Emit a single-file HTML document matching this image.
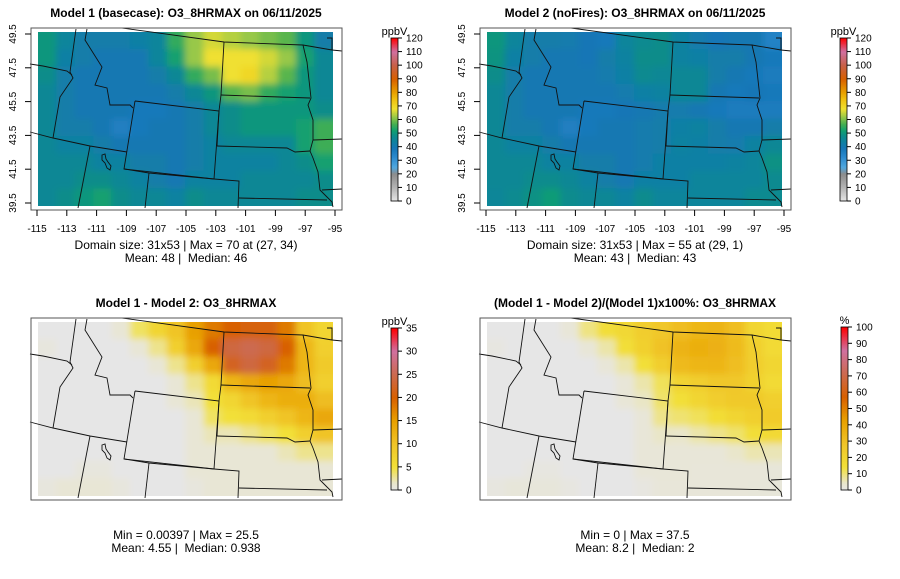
<!DOCTYPE html>
<html><head><meta charset="utf-8"><style>
body{margin:0;background:#fff;}
svg{display:block;font-family:"Liberation Sans",sans-serif;}
</style></head><body>
<svg id="fig" width="900" height="579" viewBox="0 0 900 579" xmlns="http://www.w3.org/2000/svg">
<defs>
<filter id="sm" filterUnits="userSpaceOnUse" x="0" y="0" width="400" height="260"><feGaussianBlur stdDeviation="3.5"/></filter>
<clipPath id="mapclip"><rect x="38" y="32" width="295" height="174"/></clipPath>
</defs>
</svg>
<script>
// Model 1 (basecase) O3_8HRMAX, rows north->south, cols west->east (ppbV)
const model1 = [
[50,45,42,42,42,43,45,55,62,66,64,62,60,58,50,42],
[50,43,42,40,40,40,45,52,62,68,68,68,66,62,52,46],
[48,42,40,40,40,40,42,46,55,60,68,70,64,58,50,46],
[46,42,40,40,40,40,40,42,46,50,58,60,55,52,50,46],
[46,42,40,40,40,38,38,40,42,46,48,50,50,50,50,48],
[46,42,42,40,36,38,40,40,42,46,48,50,50,50,52,56],
[46,44,44,42,40,40,40,40,42,44,46,46,46,46,52,56],
[46,46,46,44,44,42,42,40,42,44,44,44,44,46,48,52],
[46,46,48,48,46,44,42,40,44,44,44,46,46,46,46,48],
[46,48,50,52,48,46,46,44,48,46,46,46,46,46,48,48]];
// Model 1 - Model 2 difference (ppbV)
const diff = [
[0,0,0,0,1,4,7,10,15,18,20,21,21,18,10,7],
[0.5,0,0,0,0,1,3,8,14,20,24,25,24,20,12,8],
[0,0,0,0,0,0,1,3,8,14,22,24,22,18,12,9],
[0,0,0,0,0,0,0,1,3,6,12,14,15,14,11,8],
[0,0,0,0,0,0,0,1,2,5,7,10,12,13,13,11],
[0,0,0,0,0,0,0,0,1,4,5,6,8,10,12,14],
[0,0,0,0,0,0,0,0,1,2,2,3,4,5,8,10],
[0,0,0,0,0,0,0,0,1,1,1,1,1,2,3,3],
[0,0,0.5,0.5,0,0,0,0,1,1,1,1,1,1,1,1],
[0.5,1,1,1,0.5,0,0,0,0.5,1,1,1,1,1,1,1]];
const xTicks = [-115,-113,-111,-109,-107,-105,-103,-101,-99,-97,-95];
const yTicks = [39.5,41.5,43.5,45.5,47.5,49.5];
const cbTicks1 = [0,10,20,30,40,50,60,70,80,90,100,110,120];
const cbTicks3 = [0,5,10,15,20,25,30,35];
const cbTicks4 = [0,10,20,30,40,50,60,70,80,90,100];

const NS='http://www.w3.org/2000/svg';
const svg=document.getElementById('fig');
function mk(tag,attrs,parent){const e=document.createElementNS(NS,tag);for(const k in attrs)e.setAttribute(k,attrs[k]);(parent||svg).appendChild(e);return e;}
function hex(h){return [parseInt(h.substr(1,2),16),parseInt(h.substr(3,2),16),parseInt(h.substr(5,2),16)];}
function ramp(stops){return function(t){t=Math.max(0,Math.min(1,t));for(let i=1;i<stops.length;i++){if(t<=stops[i][0]){const a=stops[i-1],b=stops[i];const f=(t-a[0])/(b[0]-a[0]||1);const ca=hex(a[1]),cb=hex(b[1]);return 'rgb('+ca.map((v,j)=>Math.round(v+(cb[j]-v)*f)).join(',')+')';}}return stops[stops.length-1][1];};}
const cmapO3=ramp([[0,'#e6e6e6'],[10/120,'#b4b4b4'],[20/120,'#8c8c8c'],[25/120,'#50a8e0'],[33/120,'#2a88cc'],[39/120,'#1676b6'],[44/120,'#0f82a0'],[48/120,'#0e8c8a'],[52/120,'#12a070'],[57/120,'#48b050'],[62/120,'#98c848'],[68/120,'#f0e030'],[75/120,'#f0c010'],[80/120,'#e8a000'],[90/120,'#d86000'],[100/120,'#c86048'],[110/120,'#d070a0'],[1,'#ff0000']]);
const cmapDiff=ramp([[0,'#e6e6e6'],[1.5/35,'#e9e6cc'],[5/35,'#f2e038'],[10/35,'#f0c428'],[15/35,'#e8a000'],[20/35,'#d86000'],[25/35,'#cc6a50'],[30/35,'#d070a0'],[1,'#ff0000']]);

const model2 = model1.map((r,i)=>r.map((v,j)=>v-diff[i][j]));
const pct = model1.map((r,i)=>r.map((v,j)=>diff[i][j]/v*100));

const MX0=38,MX1=333,MY0=32,MY1=206;
const lonX=v=>37+(v+115)*(335-37)/20;
const latY=v=>203-(v-39.5)*(203-34)/10;

const borders=[
[[122,28],[224,42],[303,45],[332,50],[342,51]],
[[76,29],[70,72],[73,78],[60,97],[53,138]],
[[30,64],[43,66],[67,71],[72,75]],
[[87,29],[85,40],[102,67],[95,85],[107,88],[110,105],[130,105],[133,108]],
[[135,101],[219,111],[214,179],[124,169],[135,101]],
[[30,132],[53,138],[90,146],[127,152]],
[[90,146],[78,208]],
[[149,173],[145,208]],
[[124,169],[149,173],[214,179],[239,181],[238,208]],
[[224,42],[221,95],[219,111],[217,146]],
[[217,146],[287,148],[295,152],[310,151]],
[[239,198],[327,200]],
[[221,95],[310,98]],
[[303,45],[307,62],[311,98],[308,105],[313,120],[313,140],[310,151]],
[[313,140],[342,139]],
[[310,151],[313,158],[318,172],[320,190],[327,197],[332,202],[333,207]],
[[322,190],[342,189]],
[[327,38],[332,38],[332,50]]];

function panel(opts){
  const g=mk('g',{transform:'translate('+opts.dx+','+opts.dy+')'});
  
  
  const hm=mk('g',{'clip-path':'url(#mapclip)'},g);
  
  
  const inner=mk('g',{filter:'url(#sm)'},hm);
  const R=opts.data.length,C=opts.data[0].length,cw=(MX1-MX0)/C,ch=(MY1-MY0)/R,P=15;
  for(let i=0;i<R;i++)for(let j=0;j<C;j++){
    let x=MX0+j*cw-0.3,y=MY0+i*ch-0.3,w=cw+0.6,h=ch+0.6;
    if(j===0){x-=P;w+=P;} if(j===C-1){w+=P;}
    if(i===0){y-=P;h+=P;} if(i===R-1){h+=P;}
    const r=mk('rect',{x:x,y:y,width:w,height:h,fill:opts.cmap(opts.data[i][j]/opts.vmax)},inner);
    
    
  }
  const bg=mk('g',{fill:'none',stroke:'#111','stroke-width':'0.9'},g);
  
  
  borders.forEach(b=>mk('polyline',{points:b.map(p=>p.join(',')).join(' ')},bg));
  const lake=mk('path',{d:'M102,155 L105,154 L106,159 L108,162 L111,166 L110,170 L107,168 L105,163 L102,160 Z',fill:'none',stroke:'#111','stroke-width':'0.9'},g);
  
  
  const box=mk('rect',{x:31,y:28,width:311,height:182,fill:'none',stroke:'#555','stroke-width':'1'},g);
  
  
  if(opts.axes){
    const xa=mk('g',{},g);
    
    
    xTicks.forEach(v=>{const x=lonX(v);mk('line',{x1:x,x2:x,y1:210,y2:216,stroke:'#000'},xa);
      const t=mk('text',{x:x,y:232,'font-size':'10','text-anchor':'middle'},xa);t.textContent=v;});
    const ya=mk('g',{},g);
    
    
    yTicks.forEach(v=>{const y=latY(v);mk('line',{x1:25,x2:31,y1:y,y2:y,stroke:'#000'},ya);
      const t=mk('text',{x:16,y:y,'font-size':'10','text-anchor':'middle',transform:'rotate(-90 16 '+y+')'},ya);t.textContent=v.toFixed(1);});
  }
  const title=mk('text',{x:186,y:17,'font-size':'12','font-weight':'bold','text-anchor':'middle'},g);
  
  
  title.textContent=opts.title;
  const sy=249;
  const s1=mk('text',{x:186,y:sy,'font-size':'12','text-anchor':'middle'},g);
  
  
  s1.textContent=opts.sub1;
  const s2=mk('text',{x:186,y:sy+13,'font-size':'12','text-anchor':'middle'},g);
  
  
  s2.style.whiteSpace='pre';
  s2.textContent=opts.sub2;
  const cb=mk('g',{},g);
  
  
  const cx=opts.cbx,cy0=opts.cby0,cy1=opts.cby1,N=120;
  for(let k=0;k<N;k++){const y=cy1-(k+1)*(cy1-cy0)/N;mk('rect',{x:cx,y:y,width:7,height:(cy1-cy0)/N+0.4,fill:opts.cmap((k+0.5)/N)},cb);}
  mk('rect',{x:cx,y:cy0,width:7,height:cy1-cy0,fill:'none',stroke:'#000','stroke-width':'0.8'},cb);
  opts.ticks.forEach(v=>{const y=cy1-v/opts.vmax*(cy1-cy0);mk('line',{x1:cx+7,x2:cx+11,y1:y,y2:y,stroke:'#000'},cb);
    const t=mk('text',{x:cx+15,y:y+3.5,'font-size':'10'},cb);t.textContent=v;});
  const u=mk('text',{x:cx+3.5,y:cy0-3,'font-size':'11','text-anchor':'middle'},cb);u.textContent=opts.unit;
}
panel({name:'panel-model1',dx:0,dy:0,data:model1,cmap:cmapO3,vmax:120,axes:true,title:'Model 1 (basecase): O3_8HRMAX on 06/11/2025',sub1:'Domain size: 31x53 | Max = 70 at (27, 34)',sub2:'Mean: 48 |  Median: 46',cbx:391,cby0:38,cby1:201,ticks:cbTicks1,unit:'ppbV'});
panel({name:'panel-model2',dx:449,dy:0,data:model2,cmap:cmapO3,vmax:120,axes:true,title:'Model 2 (noFires): O3_8HRMAX on 06/11/2025',sub1:'Domain size: 31x53 | Max = 55 at (29, 1)',sub2:'Mean: 43 |  Median: 43',cbx:391,cby0:38,cby1:201,ticks:cbTicks1,unit:'ppbV'});
panel({name:'panel-difference',dx:0,dy:290,data:diff,cmap:cmapDiff,vmax:35,axes:false,title:'Model 1 - Model 2: O3_8HRMAX',sub1:'Min = 0.00397 | Max = 25.5',sub2:'Mean: 4.55 |  Median: 0.938',cbx:391,cby0:38,cby1:200,ticks:cbTicks3,unit:'ppbV'});
panel({name:'panel-percent-difference',dx:449,dy:290,data:pct,cmap:cmapDiff,vmax:100,axes:false,title:'(Model 1 - Model 2)/(Model 1)x100%: O3_8HRMAX',sub1:'Min = 0 | Max = 37.5',sub2:'Mean: 8.2 |  Median: 2',cbx:392,cby0:37,cby1:200,ticks:cbTicks4,unit:'%'});
</script>
</body></html>
